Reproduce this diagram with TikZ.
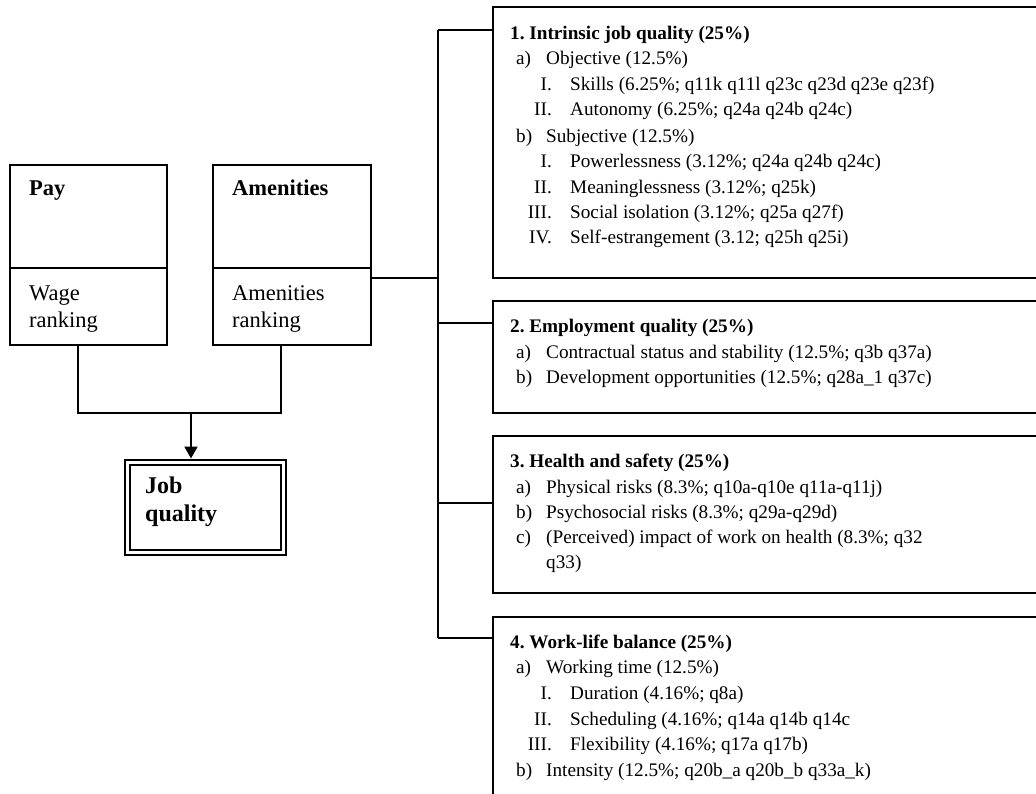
\documentclass[tikz,border=0pt]{standalone}
\usepackage{fontspec}
\setmainfont{Liberation Serif}
\usetikzlibrary{arrows.meta}
\tikzset{
  boxsh/.style={draw, line width=2.4pt, inner sep=0pt, outer sep=0pt, anchor=north west},
  conn/.style={line width=2pt},
  txt/.style={inner sep=0pt, anchor=base west, font=\fontsize{19.2}{25}\selectfont},
  btxt/.style={txt, font=\fontsize{19.2}{25}\selectfont\bfseries},
  ltxt/.style={txt, font=\fontsize{22.5}{27}\selectfont},
  lbtxt/.style={txt, font=\fontsize{22.5}{27}\selectfont\bfseries},
  jtxt/.style={txt, font=\fontsize{24}{28}\selectfont\bfseries},
  rnum/.style={txt, anchor=base east},
}
\newcommand\itemA[4]{\node[txt] (#1l) at (516,#2) {#3}; \node[txt] (#1) at (546,#2) {#4};}
\newcommand\itemR[4]{\node[rnum] (#1l) at (552,#2) {#3}; \node[txt] (#1) at (570,#2) {#4};}
\frenchspacing
\begin{document}
\frenchspacing
\begin{tikzpicture}[x=1pt,y=-1pt]
\useasboundingbox (0,0) rectangle (1036,793);
\clip (0,0) rectangle (1036,793);

% left boxes
\node[boxsh, minimum width=157pt, minimum height=103pt] (paytop) at (10,165) {};
\node[boxsh, minimum width=157pt, minimum height=77pt] (paybot) at (10,268) {};
\node[boxsh, minimum width=158pt, minimum height=103pt] (amtop) at (213,165) {};
\node[boxsh, minimum width=158pt, minimum height=77pt] (ambot) at (213,268) {};
\node[lbtxt] (payt) at (29,195) {Pay};
\node[ltxt] (wage1) at (29,300) {Wage};
\node[ltxt] (wage2) at (29,327) {ranking};
\node[lbtxt] (amt) at (232,195) {Amenities};
\node[ltxt] (am1) at (232,300) {Amenities};
\node[ltxt] (am2) at (232,327) {ranking};

% job quality
\node[draw, line width=2pt, double, double distance=3pt, inner sep=0pt, outer sep=3.5pt,
      anchor=north west, minimum width=156pt, minimum height=90pt] (jq) at (123.5,458.5) {};
\node[jtxt] (jq1) at (145,493) {Job};
\node[jtxt] (jq2) at (145,521) {quality};

\coordinate (pb) at (78,345);
\coordinate (ab) at (281,345);
\coordinate (m) at (191,413);
\draw[conn] (pb) |- (m) -| (ab);
\draw[conn,-{Triangle[width=13pt,length=12pt]}] (m) -- (m |- jq.north);

% right boxes
\node[boxsh, minimum width=600pt, minimum height=271pt] (b1) at (493,7) {};
\node[boxsh, minimum width=600pt, minimum height=112pt] (b2) at (493,301) {};
\node[boxsh, minimum width=600pt, minimum height=157pt] (b3) at (493,436) {};
\node[boxsh, minimum width=600pt, minimum height=250pt] (b4) at (493,617) {};

% spine
\coordinate (s1) at (438,30);
\coordinate (s2) at (438,323);
\coordinate (s3) at (438,503);
\coordinate (s4) at (438,638);
\coordinate (j) at (438,278);
\draw[conn] (s1) -- (s4);
\draw[conn] (s1) -- (s1 -| b1.west);
\draw[conn] (s2) -- (s2 -| b2.west);
\draw[conn] (s3) -- (s3 -| b3.west);
\draw[conn] (s4) -- (s4 -| b4.west);
\draw[conn] (j -| ambot.east) -- (j);

% box 1
\node[btxt] (h1) at (510,39) {1. Intrinsic job quality (25\%)};
\itemA{b1a}{64}{a)}{Objective (12.5\%)}
\itemR{b1ai}{90}{I.}{Skills (6.25\%; q11k q11l q23c q23d q23e q23f)}
\itemR{b1aii}{115}{II.}{Autonomy (6.25\%; q24a q24b q24c)}
\itemA{b1b}{142}{b)}{Subjective (12.5\%)}
\itemR{b1bi}{167}{I.}{Powerlessness (3.12\%; q24a q24b q24c)}
\itemR{b1bii}{193}{II.}{Meaninglessness (3.12\%; q25k)}
\itemR{b1biii}{218}{III.}{Social isolation (3.12\%; q25a q27f)}
\itemR{b1biv}{243}{IV.}{Self-estrangement (3.12; q25h q25i)}

% box 2
\node[btxt] (h2) at (510,332) {2. Employment quality (25\%)};
\itemA{b2a}{358}{a)}{Contractual status and stability (12.5\%; q3b q37a)}
\itemA{b2b}{383}{b)}{Development opportunities (12.5\%; q28a\_1 q37c)}

% box 3
\node[btxt] (h3) at (510,467) {3. Health and safety (25\%)};
\itemA{b3a}{493}{a)}{Physical risks (8.3\%; q10a-q10e q11a-q11j)}
\itemA{b3b}{518}{b)}{Psychosocial risks (8.3\%; q29a-q29d)}
\itemA{b3c}{543}{c)}{(Perceived) impact of work on health (8.3\%; q32}
\node[txt] (b3c2) at (546,568) {q33)};

% box 4
\node[btxt] (h4) at (510,648) {4. Work-life balance (25\%)};
\itemA{b4a}{673}{a)}{Working time (12.5\%)}
\itemR{b4ai}{699}{I.}{Duration (4.16\%; q8a)}
\itemR{b4aii}{725}{II.}{Scheduling (4.16\%; q14a q14b q14c}
\itemR{b4aiii}{750}{III.}{Flexibility (4.16\%; q17a q17b)}
\itemA{b4b}{776}{b)}{Intensity (12.5\%; q20b\_a q20b\_b q33a\_k)}
\end{tikzpicture}
\end{document}
